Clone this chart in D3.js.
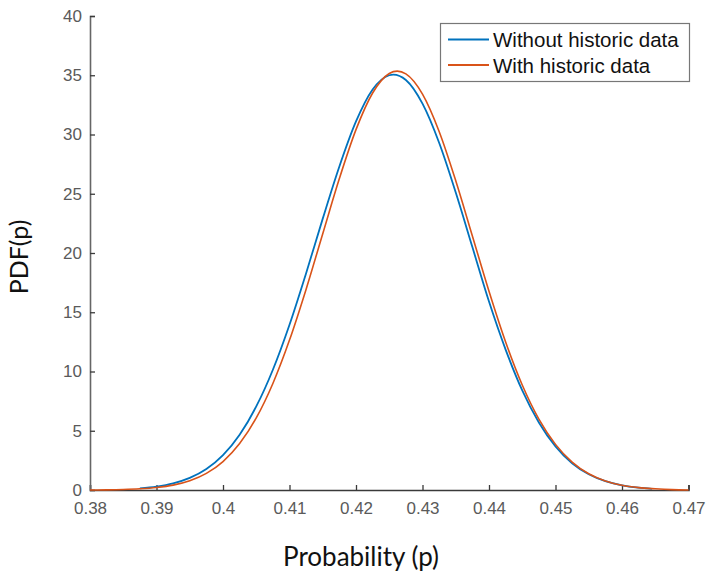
<!DOCTYPE html>
<html>
<head>
<meta charset="utf-8">
<script src="https://cdn.jsdelivr.net/npm/d3@7"></script>
<style>
  html, body { margin: 0; padding: 0; background: #fff; }
  svg { display: block; }
</style>
</head>
<body>
<div id="chart"></div>
<script>
// ---- data ----
const seriesNames = ["Without historic data", "With historic data"];

const pWithout = [0.3875, 0.3900, 0.3925, 0.3950, 0.3975, 0.4000, 0.4025, 0.4050, 0.4075, 0.4100,
                  0.4125, 0.4150, 0.4175, 0.4200, 0.4225, 0.4250, 0.4256, 0.4275, 0.4300, 0.4325,
                  0.4350, 0.4375, 0.4400, 0.4425, 0.4450, 0.4475, 0.4500, 0.4525, 0.4550, 0.4575,
                  0.4600, 0.4625, 0.4645];
const pdfWithout = [0.14, 0.29, 0.56, 1.02, 1.77, 2.94, 4.66, 7.05, 10.15, 13.95,
                    18.3, 22.9, 27.3, 31.1, 33.8, 35.0, 35.05, 34.6, 32.6, 29.3,
                    25.1, 20.5, 15.9, 11.85, 8.4, 5.7, 3.68, 2.26, 1.33, 0.75,
                    0.40, 0.20, 0.10];

const pWith = [0.3800, 0.3825, 0.3850, 0.3875, 0.3900, 0.3925, 0.3950, 0.3975, 0.4000, 0.4025,
               0.4050, 0.4075, 0.4100, 0.4125, 0.4150, 0.4175, 0.4200, 0.4225, 0.4250, 0.4262,
               0.4275, 0.4300, 0.4325, 0.4350, 0.4375, 0.4400, 0.4425, 0.4450, 0.4475, 0.4500,
               0.4525, 0.4550, 0.4575, 0.4600, 0.4625, 0.4650, 0.4675, 0.4700];
const pdfWith = [0.0, 0.01, 0.04, 0.10, 0.21, 0.41, 0.78, 1.40, 2.40, 3.92,
                 6.08, 8.99, 12.65, 16.95, 21.63, 26.28, 30.41, 33.5, 35.15, 35.35,
                 35.12, 33.41, 30.26, 26.1, 21.44, 16.77, 12.49, 8.86, 5.98, 3.85,
                 2.36, 1.37, 0.76, 0.40, 0.20, 0.10, 0.03, 0.0];

const xTicks = [0.38, 0.39, 0.40, 0.41, 0.42, 0.43, 0.44, 0.45, 0.46, 0.47];
const xTickLabels = ["0.38", "0.39", "0.4", "0.41", "0.42", "0.43", "0.44", "0.45", "0.46", "0.47"];
const yTicks = [0, 5, 10, 15, 20, 25, 30, 35, 40];

const colors = ["#0072BD", "#D95319"];

// ---- layout ----
const W = 709, H = 576;
const svg = d3.select("#chart").append("svg").attr("width", W).attr("height", H);

const x = d3.scaleLinear().domain([0.38, 0.47]).range([90, 688.5]);
const y = d3.scaleLinear().domain([0, 40]).range([490, 16]);

const line = d3.line().x(d => x(d[0])).y(d => y(d[1])).curve(d3.curveMonotoneX);
const dataWithout = pWithout.map((p, i) => [p, pdfWithout[i]]);
const dataWith = pWith.map((p, i) => [p, pdfWith[i]]);

const xAxis = d3.axisBottom(x).tickValues(xTicks).tickSize(-5).tickPadding(12)
  .tickFormat((d, i) => xTickLabels[i]);
const yAxis = d3.axisLeft(y).tickValues(yTicks).tickSize(-5).tickPadding(8);

const gx = svg.append("g").attr("transform", "translate(0,490)").call(xAxis);
const gy = svg.append("g").attr("transform", "translate(90,0)").call(yAxis);

[gx, gy].forEach(g => {
  g.select(".domain").attr("stroke", "#3a3a3a").attr("stroke-width", 1.6);
  g.selectAll(".tick line").attr("stroke", "#3a3a3a").attr("stroke-width", 1.3);
  g.selectAll(".tick text").attr("fill", "#5a5a5a")
    .style("font-family", "'Liberation Sans', Arial, sans-serif").style("font-size", "17px");
});
gy.select(".domain").attr("stroke", "#666");

svg.append("path").datum(dataWithout).attr("fill", "none").attr("stroke", colors[0])
  .attr("stroke-width", 1.8).attr("d", line);
svg.append("path").datum(dataWith).attr("fill", "none").attr("stroke", colors[1])
  .attr("stroke-width", 1.6).attr("d", line);

// legend
const lg = svg.append("g");
lg.append("rect").attr("x", 440.5).attr("y", 23.5).attr("width", 249).attr("height", 58)
  .attr("fill", "#fff").attr("stroke", "#777").attr("stroke-width", 1.2);
seriesNames.forEach((name, i) => {
  const yy = 39.5 + i * 25.5;
  lg.append("line").attr("x1", 448).attr("x2", 489).attr("y1", yy).attr("y2", yy)
    .attr("stroke", colors[i]).attr("stroke-width", 2.2);
  lg.append("text").attr("x", 493).attr("y", yy + 7.5).text(name)
    .style("font-family", "'Liberation Sans', Arial, sans-serif").style("font-size", "20.5px")
    .attr("fill", "#111");
});

// axis titles
svg.append("text").attr("x", 361).attr("y", 566).attr("text-anchor", "middle")
  .text("Probability (p)")
  .style("font-family", "Lato, 'Open Sans', sans-serif").style("font-size", "26px").attr("fill", "#111");
svg.append("text").attr("transform", "translate(28,257) rotate(-90)").attr("text-anchor", "middle")
  .text("PDF(p)")
  .style("font-family", "Lato, 'Open Sans', sans-serif").style("font-size", "25px").attr("fill", "#111");
</script>
</body>
</html>
